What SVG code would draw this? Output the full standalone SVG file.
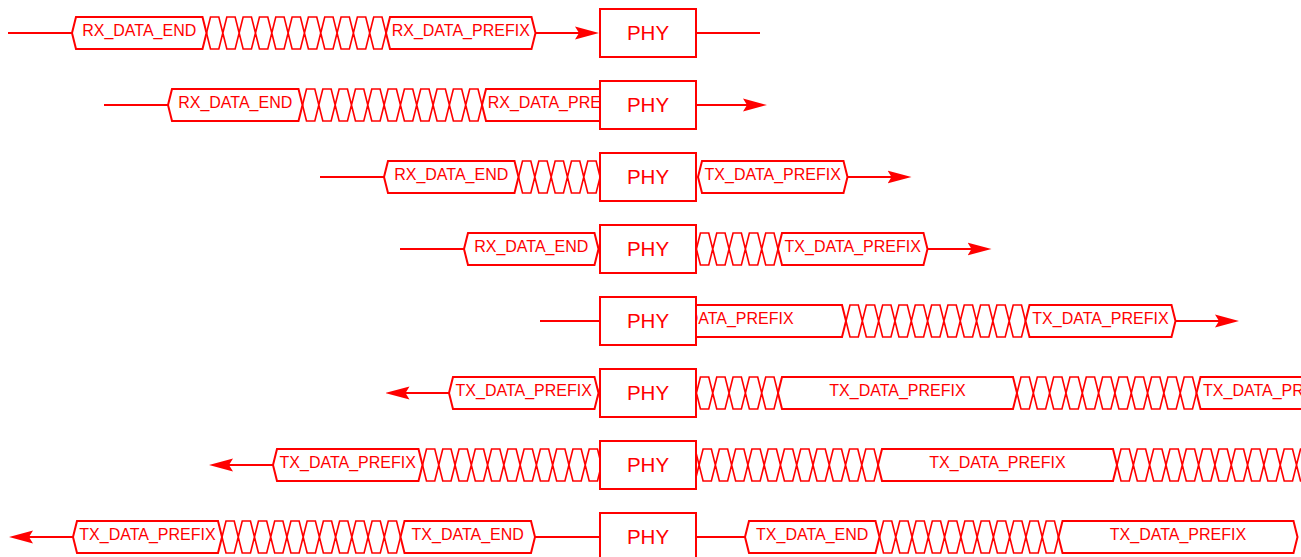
<svg xmlns="http://www.w3.org/2000/svg" width="1301" height="557" viewBox="0 0 1301 557">
<style>
.w{stroke:#ff0000;stroke-width:2;fill:none}
.hx{stroke:#ff0000;stroke-width:2;fill:#ffffff}
.xs{stroke:#ff0000;stroke-width:1.6;fill:none}
.lb{font-family:"Liberation Sans",Arial,Helvetica,sans-serif;font-size:16px;fill:#ff0000;text-anchor:middle}
.phy rect{stroke:#ff0000;stroke-width:2;fill:#ffffff}
.phy text{font-family:"Liberation Sans",Arial,Helvetica,sans-serif;font-size:20.5px;fill:#ff0000;text-anchor:middle}
</style>
<defs>
<marker id="arr" viewBox="0 0 24 14" refX="16" refY="7" markerWidth="24" markerHeight="14" markerUnits="userSpaceOnUse" orient="auto">
<path d="M0,0.5L24,7L0,13.5L4,7Z" fill="#ff0000"/>
</marker>
</defs>
<rect width="1301" height="557" fill="#ffffff"/>
<g id="connectors">
<line class="w" x1="8" y1="33" x2="73" y2="33"/>
<line class="w" x1="535.5" y1="33" x2="591" y2="33" marker-end="url(#arr)"/>
<line class="w" x1="696" y1="33" x2="760" y2="33"/>
<line class="w" x1="104" y1="105" x2="169" y2="105"/>
<line class="w" x1="696" y1="105" x2="759" y2="105" marker-end="url(#arr)"/>
<line class="w" x1="320" y1="177" x2="385" y2="177"/>
<line class="w" x1="847.5" y1="177" x2="903.5" y2="177" marker-end="url(#arr)"/>
<line class="w" x1="400" y1="249" x2="465" y2="249"/>
<line class="w" x1="927.5" y1="249" x2="983.5" y2="249" marker-end="url(#arr)"/>
<line class="w" x1="540" y1="321" x2="610" y2="321"/>
<line class="w" x1="1175.5" y1="321" x2="1231" y2="321" marker-end="url(#arr)"/>
<line class="w" x1="449" y1="393" x2="393.5" y2="393" marker-end="url(#arr)"/>
<line class="w" x1="273" y1="465" x2="217" y2="465" marker-end="url(#arr)"/>
<line class="w" x1="73" y1="537" x2="17" y2="537" marker-end="url(#arr)"/>
<line class="w" x1="535" y1="537" x2="746" y2="537"/>
</g>
<g id="signals">
<g id="row1">
<path class="xs" d="M206.5,33l4-16h8.32l4 16l-4 16h-8.32l-4-16m16.32 0l4-16h8.32l4 16l-4 16h-8.32l-4-16m16.32 0l4-16h8.32l4 16l-4 16h-8.32l-4-16m16.32 0l4-16h8.32l4 16l-4 16h-8.32l-4-16m16.32 0l4-16h8.32l4 16l-4 16h-8.32l-4-16m16.32 0l4-16h8.32l4 16l-4 16h-8.32l-4-16m16.32 0l4-16h8.32l4 16l-4 16h-8.32l-4-16m16.32 0l4-16h8.32l4 16l-4 16h-8.32l-4-16m16.32 0l4-16h8.32l4 16l-4 16h-8.32l-4-16m16.32 0l4-16h8.32l4 16l-4 16h-8.32l-4-16m16.32 0l4-16h8.32l4 16l-4 16h-8.32l-4-16m16.32 0"/>
<g id="r1-end"><path class="hx" d="M72,33L76,17H202.5L206.5,33L202.5,49H76Z"/><text class="lb" x="139.25" y="35.7">RX_DATA_END</text></g>
<g id="r1-prefix"><path class="hx" d="M386,33L390,17H531.5L535.5,33L531.5,49H390Z"/><text class="lb" x="460.75" y="35.7">RX_DATA_PREFIX</text></g>
</g>
<g id="row2">
<path class="xs" d="M302.5,105l4-16h8.32l4 16l-4 16h-8.32l-4-16m16.32 0l4-16h8.32l4 16l-4 16h-8.32l-4-16m16.32 0l4-16h8.32l4 16l-4 16h-8.32l-4-16m16.32 0l4-16h8.32l4 16l-4 16h-8.32l-4-16m16.32 0l4-16h8.32l4 16l-4 16h-8.32l-4-16m16.32 0l4-16h8.32l4 16l-4 16h-8.32l-4-16m16.32 0l4-16h8.32l4 16l-4 16h-8.32l-4-16m16.32 0l4-16h8.32l4 16l-4 16h-8.32l-4-16m16.32 0l4-16h8.32l4 16l-4 16h-8.32l-4-16m16.32 0l4-16h8.32l4 16l-4 16h-8.32l-4-16m16.32 0l4-16h8.32l4 16l-4 16h-8.32l-4-16m16.32 0"/>
<g id="r2-end"><path class="hx" d="M168,105L172,89H298.5L302.5,105L298.5,121H172Z"/><text class="lb" x="235.25" y="107.7">RX_DATA_END</text></g>
<g id="r2-prefix"><path class="hx" d="M482,105L486,89H627.5L631.5,105L627.5,121H486Z"/><text class="lb" x="556.75" y="107.7">RX_DATA_PREFIX</text></g>
</g>
<g id="row3">
<path class="xs" d="M518.5,177l4-16h8.32l4 16l-4 16h-8.32l-4-16m16.32 0l4-16h8.32l4 16l-4 16h-8.32l-4-16m16.32 0l4-16h8.32l4 16l-4 16h-8.32l-4-16m16.32 0l4-16h8.32l4 16l-4 16h-8.32l-4-16m16.32 0l4-16h8.32l4 16l-4 16h-8.32l-4-16m16.32 0l4-16h8.32l4 16l-4 16h-8.32l-4-16m16.32 0l4-16h8.32l4 16l-4 16h-8.32l-4-16m16.32 0"/>
<g id="r3-end"><path class="hx" d="M384,177L388,161H514.5L518.5,177L514.5,193H388Z"/><text class="lb" x="451.25" y="179.7">RX_DATA_END</text></g>
<g id="r3-prefix"><path class="hx" d="M698,177L702,161H843.5L847.5,177L843.5,193H702Z"/><text class="lb" x="772.75" y="179.7">TX_DATA_PREFIX</text></g>
</g>
<g id="row4">
<path class="xs" d="M598.5,249l4-16h8.32l4 16l-4 16h-8.32l-4-16m16.32 0l4-16h8.32l4 16l-4 16h-8.32l-4-16m16.32 0l4-16h8.32l4 16l-4 16h-8.32l-4-16m16.32 0l4-16h8.32l4 16l-4 16h-8.32l-4-16m16.32 0l4-16h8.32l4 16l-4 16h-8.32l-4-16m16.32 0l4-16h8.32l4 16l-4 16h-8.32l-4-16m16.32 0l4-16h8.32l4 16l-4 16h-8.32l-4-16m16.32 0l4-16h8.32l4 16l-4 16h-8.32l-4-16m16.32 0l4-16h8.32l4 16l-4 16h-8.32l-4-16m16.32 0l4-16h8.32l4 16l-4 16h-8.32l-4-16m16.32 0l4-16h8.32l4 16l-4 16h-8.32l-4-16m16.32 0"/>
<g id="r4-end"><path class="hx" d="M464,249L468,233H594.5L598.5,249L594.5,265H468Z"/><text class="lb" x="531.25" y="251.7">RX_DATA_END</text></g>
<g id="r4-prefix"><path class="hx" d="M778,249L782,233H923.5L927.5,249L923.5,265H782Z"/><text class="lb" x="852.75" y="251.7">TX_DATA_PREFIX</text></g>
</g>
<g id="row5">
<path class="xs" d="M846,321l4-16h8.32l4 16l-4 16h-8.32l-4-16m16.32 0l4-16h8.32l4 16l-4 16h-8.32l-4-16m16.32 0l4-16h8.32l4 16l-4 16h-8.32l-4-16m16.32 0l4-16h8.32l4 16l-4 16h-8.32l-4-16m16.32 0l4-16h8.32l4 16l-4 16h-8.32l-4-16m16.32 0l4-16h8.32l4 16l-4 16h-8.32l-4-16m16.32 0l4-16h8.32l4 16l-4 16h-8.32l-4-16m16.32 0l4-16h8.32l4 16l-4 16h-8.32l-4-16m16.32 0l4-16h8.32l4 16l-4 16h-8.32l-4-16m16.32 0l4-16h8.32l4 16l-4 16h-8.32l-4-16m16.32 0l4-16h8.32l4 16l-4 16h-8.32l-4-16m16.32 0"/>
<g id="r5-long"><path class="hx" d="M607,321L611,305H842L846,321L842,337H611Z"/><text class="lb" x="725.5" y="323.7">TX_DATA_PREFIX</text></g>
<g id="r5-prefix"><path class="hx" d="M1025.5,321L1029.5,305H1171.5L1175.5,321L1171.5,337H1029.5Z"/><text class="lb" x="1100.5" y="323.7">TX_DATA_PREFIX</text></g>
</g>
<g id="row6">
<path class="xs" d="M598.5,393l4-16h8.32l4 16l-4 16h-8.32l-4-16m16.32 0l4-16h8.32l4 16l-4 16h-8.32l-4-16m16.32 0l4-16h8.32l4 16l-4 16h-8.32l-4-16m16.32 0l4-16h8.32l4 16l-4 16h-8.32l-4-16m16.32 0l4-16h8.32l4 16l-4 16h-8.32l-4-16m16.32 0l4-16h8.32l4 16l-4 16h-8.32l-4-16m16.32 0l4-16h8.32l4 16l-4 16h-8.32l-4-16m16.32 0l4-16h8.32l4 16l-4 16h-8.32l-4-16m16.32 0l4-16h8.32l4 16l-4 16h-8.32l-4-16m16.32 0l4-16h8.32l4 16l-4 16h-8.32l-4-16m16.32 0l4-16h8.32l4 16l-4 16h-8.32l-4-16m16.32 0M1017,393l4-16h8.32l4 16l-4 16h-8.32l-4-16m16.32 0l4-16h8.32l4 16l-4 16h-8.32l-4-16m16.32 0l4-16h8.32l4 16l-4 16h-8.32l-4-16m16.32 0l4-16h8.32l4 16l-4 16h-8.32l-4-16m16.32 0l4-16h8.32l4 16l-4 16h-8.32l-4-16m16.32 0l4-16h8.32l4 16l-4 16h-8.32l-4-16m16.32 0l4-16h8.32l4 16l-4 16h-8.32l-4-16m16.32 0l4-16h8.32l4 16l-4 16h-8.32l-4-16m16.32 0l4-16h8.32l4 16l-4 16h-8.32l-4-16m16.32 0l4-16h8.32l4 16l-4 16h-8.32l-4-16m16.32 0l4-16h8.32l4 16l-4 16h-8.32l-4-16m16.32 0"/>
<g id="r6-prefix-a"><path class="hx" d="M449,393L453,377H594.5L598.5,393L594.5,409H453Z"/><text class="lb" x="523.75" y="395.7">TX_DATA_PREFIX</text></g>
<g id="r6-long"><path class="hx" d="M778,393L782,377H1013L1017,393L1013,409H782Z"/><text class="lb" x="897.5" y="395.7">TX_DATA_PREFIX</text></g>
<g id="r6-prefix-b"><path class="hx" d="M1196.5,393L1200.5,377H1342L1346,393L1342,409H1200.5Z"/><text class="lb" x="1271.25" y="395.7">TX_DATA_PREFIX</text></g>
</g>
<g id="row7">
<path class="xs" d="M422.5,465l4-16h8.27l4 16l-4 16h-8.27l-4-16m16.27 0l4-16h8.27l4 16l-4 16h-8.27l-4-16m16.27 0l4-16h8.27l4 16l-4 16h-8.27l-4-16m16.27 0l4-16h8.27l4 16l-4 16h-8.27l-4-16m16.27 0l4-16h8.27l4 16l-4 16h-8.27l-4-16m16.27 0l4-16h8.27l4 16l-4 16h-8.27l-4-16m16.27 0l4-16h8.27l4 16l-4 16h-8.27l-4-16m16.27 0l4-16h8.27l4 16l-4 16h-8.27l-4-16m16.27 0l4-16h8.27l4 16l-4 16h-8.27l-4-16m16.27 0l4-16h8.27l4 16l-4 16h-8.27l-4-16m16.27 0l4-16h8.27l4 16l-4 16h-8.27l-4-16m16.27 0l4-16h8.27l4 16l-4 16h-8.27l-4-16m16.27 0l4-16h8.27l4 16l-4 16h-8.27l-4-16m16.27 0l4-16h8.27l4 16l-4 16h-8.27l-4-16m16.27 0l4-16h8.27l4 16l-4 16h-8.27l-4-16m16.27 0l4-16h8.27l4 16l-4 16h-8.27l-4-16m16.27 0l4-16h8.27l4 16l-4 16h-8.27l-4-16m16.27 0l4-16h8.27l4 16l-4 16h-8.27l-4-16m16.27 0l4-16h8.27l4 16l-4 16h-8.27l-4-16m16.27 0l4-16h8.27l4 16l-4 16h-8.27l-4-16m16.27 0l4-16h8.27l4 16l-4 16h-8.27l-4-16m16.27 0l4-16h8.27l4 16l-4 16h-8.27l-4-16m16.27 0l4-16h8.27l4 16l-4 16h-8.27l-4-16m16.27 0l4-16h8.27l4 16l-4 16h-8.27l-4-16m16.27 0l4-16h8.27l4 16l-4 16h-8.27l-4-16m16.27 0l4-16h8.27l4 16l-4 16h-8.27l-4-16m16.27 0l4-16h8.27l4 16l-4 16h-8.27l-4-16m16.27 0l4-16h8.27l4 16l-4 16h-8.27l-4-16m16.27 0M1117,465l4-16h8.32l4 16l-4 16h-8.32l-4-16m16.32 0l4-16h8.32l4 16l-4 16h-8.32l-4-16m16.32 0l4-16h8.32l4 16l-4 16h-8.32l-4-16m16.32 0l4-16h8.32l4 16l-4 16h-8.32l-4-16m16.32 0l4-16h8.32l4 16l-4 16h-8.32l-4-16m16.32 0l4-16h8.32l4 16l-4 16h-8.32l-4-16m16.32 0l4-16h8.32l4 16l-4 16h-8.32l-4-16m16.32 0l4-16h8.32l4 16l-4 16h-8.32l-4-16m16.32 0l4-16h8.32l4 16l-4 16h-8.32l-4-16m16.32 0l4-16h8.32l4 16l-4 16h-8.32l-4-16m16.32 0l4-16h8.32l4 16l-4 16h-8.32l-4-16m16.32 0l4-16h8.32l4 16l-4 16h-8.32l-4-16m16.32 0"/>
<g id="r7-prefix"><path class="hx" d="M273,465L277,449H418.5L422.5,465L418.5,481H277Z"/><text class="lb" x="347.75" y="467.7">TX_DATA_PREFIX</text></g>
<g id="r7-long"><path class="hx" d="M878,465L882,449H1113L1117,465L1113,481H882Z"/><text class="lb" x="997.5" y="467.7">TX_DATA_PREFIX</text></g>
</g>
<g id="row8">
<path class="xs" d="M222,537l4-16h8.23l4 16l-4 16h-8.23l-4-16m16.23 0l4-16h8.23l4 16l-4 16h-8.23l-4-16m16.23 0l4-16h8.23l4 16l-4 16h-8.23l-4-16m16.23 0l4-16h8.23l4 16l-4 16h-8.23l-4-16m16.23 0l4-16h8.23l4 16l-4 16h-8.23l-4-16m16.23 0l4-16h8.23l4 16l-4 16h-8.23l-4-16m16.23 0l4-16h8.23l4 16l-4 16h-8.23l-4-16m16.23 0l4-16h8.23l4 16l-4 16h-8.23l-4-16m16.23 0l4-16h8.23l4 16l-4 16h-8.23l-4-16m16.23 0l4-16h8.23l4 16l-4 16h-8.23l-4-16m16.23 0l4-16h8.23l4 16l-4 16h-8.23l-4-16m16.23 0M879.5,537l4-16h8.27l4 16l-4 16h-8.27l-4-16m16.27 0l4-16h8.27l4 16l-4 16h-8.27l-4-16m16.27 0l4-16h8.27l4 16l-4 16h-8.27l-4-16m16.27 0l4-16h8.27l4 16l-4 16h-8.27l-4-16m16.27 0l4-16h8.27l4 16l-4 16h-8.27l-4-16m16.27 0l4-16h8.27l4 16l-4 16h-8.27l-4-16m16.27 0l4-16h8.27l4 16l-4 16h-8.27l-4-16m16.27 0l4-16h8.27l4 16l-4 16h-8.27l-4-16m16.27 0l4-16h8.27l4 16l-4 16h-8.27l-4-16m16.27 0l4-16h8.27l4 16l-4 16h-8.27l-4-16m16.27 0l4-16h8.27l4 16l-4 16h-8.27l-4-16m16.27 0"/>
<g id="r8-prefix"><path class="hx" d="M73,537L77,521H218L222,537L218,553H77Z"/><text class="lb" x="147.5" y="539.7">TX_DATA_PREFIX</text></g>
<g id="r8-end-a"><path class="hx" d="M400.5,537L404.5,521H531L535,537L531,553H404.5Z"/><text class="lb" x="467.75" y="539.7">TX_DATA_END</text></g>
<g id="r8-end-b"><path class="hx" d="M745,537L749,521H875.5L879.5,537L875.5,553H749Z"/><text class="lb" x="812.25" y="539.7">TX_DATA_END</text></g>
<g id="r8-long"><path class="hx" d="M1058.5,537L1062.5,521H1293.5L1297.5,537L1293.5,553H1062.5Z"/><text class="lb" x="1178" y="539.7">TX_DATA_PREFIX</text></g>
</g>
</g>
<g id="phy1" class="phy"><rect x="600" y="9" width="96" height="48"/><text x="648" y="40.3">PHY</text></g>
<g id="phy2" class="phy"><rect x="600" y="81" width="96" height="48"/><text x="648" y="112.3">PHY</text></g>
<g id="phy3" class="phy"><rect x="600" y="153" width="96" height="48"/><text x="648" y="184.3">PHY</text></g>
<g id="phy4" class="phy"><rect x="600" y="225" width="96" height="48"/><text x="648" y="256.3">PHY</text></g>
<g id="phy5" class="phy"><rect x="600" y="297" width="96" height="48"/><text x="648" y="328.3">PHY</text></g>
<g id="phy6" class="phy"><rect x="600" y="369" width="96" height="48"/><text x="648" y="400.3">PHY</text></g>
<g id="phy7" class="phy"><rect x="600" y="441" width="96" height="48"/><text x="648" y="472.3">PHY</text></g>
<g id="phy8" class="phy"><rect x="600" y="513" width="96" height="48"/><text x="648" y="544.3">PHY</text></g>
</svg>
